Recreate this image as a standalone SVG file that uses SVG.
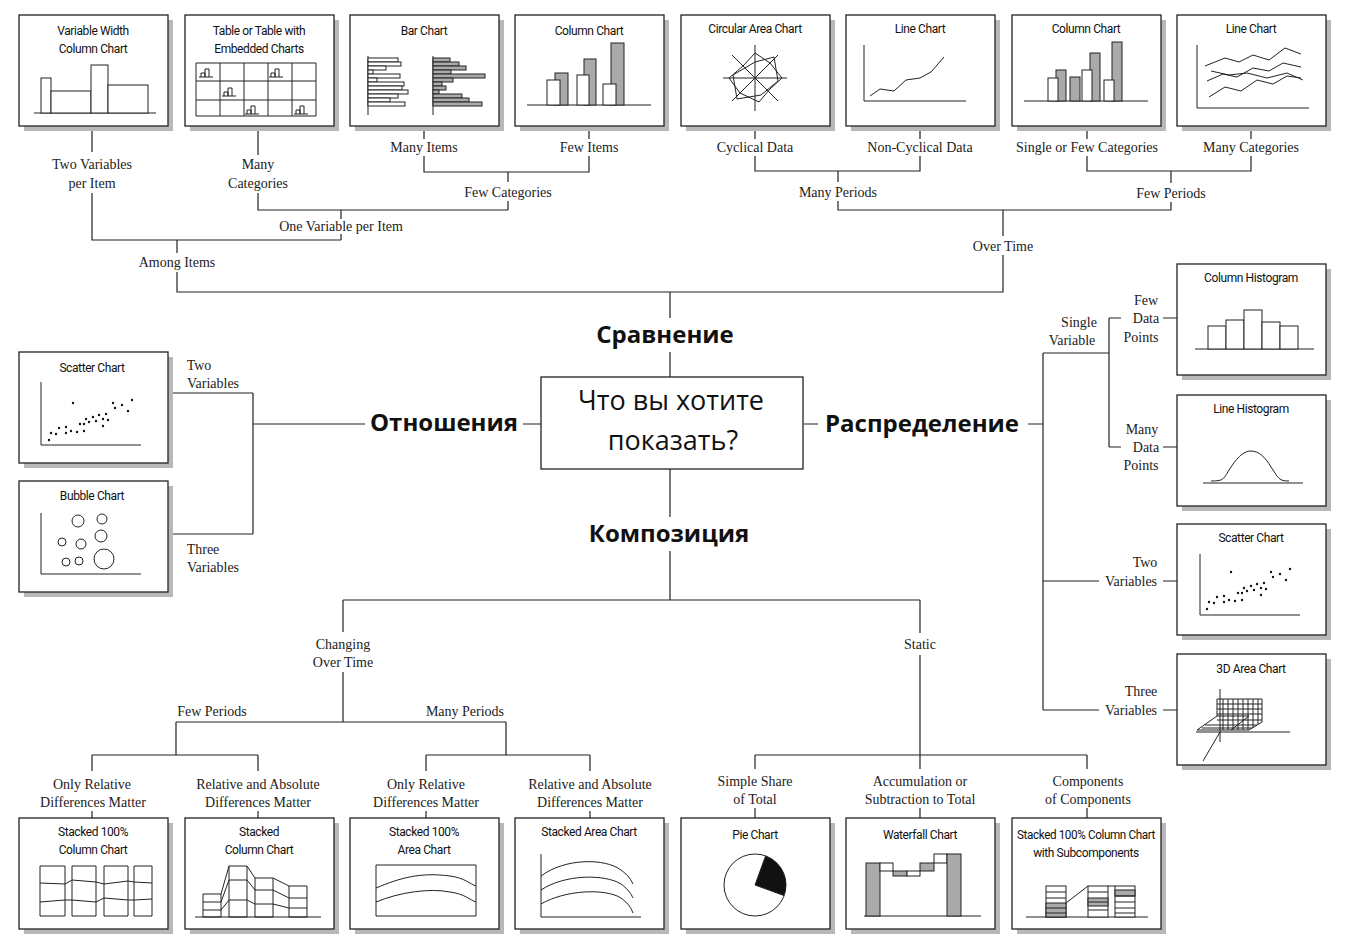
<svg xmlns="http://www.w3.org/2000/svg" width="1346" height="944" viewBox="0 0 1346 944">
<style>
.sh{fill:#b8b8b8}
.bx{fill:#fff;stroke:#222;stroke-width:1.3}
.t{font-family:"Roboto","DejaVu Sans",sans-serif;font-size:12px;letter-spacing:-0.4px;text-anchor:middle;fill:#111}
.l{font-family:"Liberation Serif",serif;font-size:14px;text-anchor:middle;fill:#222}
.big{font-family:"Open Sans","DejaVu Sans",sans-serif;font-weight:bold;font-size:24px;text-anchor:middle;fill:#111}
.q{font-family:"Open Sans","DejaVu Sans",sans-serif;font-size:27px;text-anchor:middle;fill:#111}
.c{fill:none;stroke:#222;stroke-width:1.2}
.k{fill:none;stroke:#222;stroke-width:1}
.w{fill:#fff;stroke:#222;stroke-width:1}
.g{fill:#aaa;stroke:#222;stroke-width:1}
.d{fill:#111}
</style>
<defs>
<g id="frame"><rect class="sh" x="5" y="5" width="149" height="111"/><rect class="bx" x="0" y="0" width="149" height="111"/></g>
<g id="scat">
<circle class="d" cx="0" cy="40" r="1.2"/><circle class="d" cx="2" cy="33" r="1.2"/><circle class="d" cx="7" cy="34" r="1.2"/><circle class="d" cx="10" cy="28" r="1.2"/><circle class="d" cx="17" cy="27" r="1.2"/><circle class="d" cx="17" cy="33" r="1.2"/><circle class="d" cx="22" cy="31" r="1.2"/><circle class="d" cx="28" cy="32" r="1.2"/><circle class="d" cx="31" cy="24" r="1.2"/><circle class="d" cx="35" cy="24" r="1.2"/><circle class="d" cx="37" cy="19" r="1.2"/><circle class="d" cx="40" cy="22" r="1.2"/><circle class="d" cx="44" cy="17" r="1.2"/><circle class="d" cx="47" cy="21" r="1.2"/><circle class="d" cx="50" cy="15" r="1.2"/><circle class="d" cx="54" cy="19" r="1.2"/><circle class="d" cx="54" cy="26" r="1.2"/><circle class="d" cx="57" cy="14" r="1.2"/><circle class="d" cx="59" cy="20" r="1.2"/><circle class="d" cx="66" cy="8" r="1.2"/><circle class="d" cx="64" cy="3" r="1.2"/><circle class="d" cx="73" cy="5" r="1.2"/><circle class="d" cx="83" cy="0" r="1.2"/><circle class="d" cx="79" cy="11" r="1.2"/><circle class="d" cx="24" cy="3" r="1.2"/><circle class="d" cx="35" cy="31" r="1.2"/>
</g>
</defs>

<g id="connectors" class="c">
<path d="M92 126V152M92 193V240H341M341 210V219M341 234V240"/>
<path d="M258 126V155M258 193V210H508M508 172V182M508 201V210"/>
<path d="M424 126V139M424 156V172H589V156M589 126V139"/>
<path d="M177 240V253M177 272V292H1003V255M1003 236V210"/>
<path d="M755 126V139M755 156V171H920V156M920 126V139"/>
<path d="M838 171V182M838 201V210H1171V202M1171 183V171"/>
<path d="M1087 126V139M1087 156V171H1251V156M1251 126V139"/>
<path d="M670 292V318M670 352V377"/>
<path d="M804 424H818M1028 424H1043M1043 353V710"/>
<path d="M1043 353H1109M1109 318V447M1109 318H1121M1163 318H1177M1109 447H1121M1163 447H1177"/>
<path d="M1043 581H1099M1163 581H1177M1043 710H1099M1163 710H1177"/>
<path d="M541 424H523M365 424H253M253 393V534M166 393H253M166 534H253"/>
<path d="M670 469V517M670 551V600M343 600H920M343 600V632M343 672V722M920 600V633M920 655V755"/>
<path d="M176 722H506M176 722V755M506 722V755M92 755H258M426 755H590"/>
<path d="M92 755V771M92 811V818M258 755V771M258 811V818M426 755V771M426 811V818M590 755V771M590 811V818"/>
<path d="M755 755H1087M755 755V769M755 808V818M920 769V755M920 808V818M1087 755V769M1087 808V818"/>
</g>

<g id="labels">
<text class="l" x="92" y="169">Two Variables</text><text class="l" x="92" y="188">per Item</text>
<text class="l" x="258" y="169">Many</text><text class="l" x="258" y="188">Categories</text>
<text class="l" x="424" y="152">Many Items</text><text class="l" x="589" y="152">Few Items</text>
<text class="l" x="508" y="197">Few Categories</text>
<text class="l" x="341" y="231">One Variable per Item</text>
<text class="l" x="177" y="267">Among Items</text>
<text class="l" x="755" y="152">Cyclical Data</text><text class="l" x="920" y="152">Non-Cyclical Data</text>
<text class="l" x="1087" y="152">Single or Few Categories</text><text class="l" x="1251" y="152">Many Categories</text>
<text class="l" x="838" y="197">Many Periods</text><text class="l" x="1171" y="198">Few Periods</text>
<text class="l" x="1003" y="251">Over Time</text>
<text class="l" x="1079" y="327">Single</text><text class="l" x="1072" y="345">Variable</text>
<text class="l" x="1146" y="305">Few</text><text class="l" x="1146" y="323">Data</text><text class="l" x="1141" y="342">Points</text>
<text class="l" x="1142" y="434">Many</text><text class="l" x="1146" y="452">Data</text><text class="l" x="1141" y="470">Points</text>
<text class="l" x="1145" y="567">Two</text><text class="l" x="1131" y="586">Variables</text>
<text class="l" x="1141" y="696">Three</text><text class="l" x="1131" y="715">Variables</text>
<text class="l" x="199" y="370">Two</text><text class="l" x="213" y="388">Variables</text>
<text class="l" x="203" y="554">Three</text><text class="l" x="213" y="572">Variables</text>
<text class="l" x="343" y="649">Changing</text><text class="l" x="343" y="667">Over Time</text>
<text class="l" x="920" y="649">Static</text>
<text class="l" x="212" y="716">Few Periods</text><text class="l" x="465" y="716">Many Periods</text>
<text class="l" x="92" y="789">Only Relative</text><text class="l" x="93" y="807">Differences Matter</text>
<text class="l" x="258" y="789">Relative and Absolute</text><text class="l" x="258" y="807">Differences Matter</text>
<text class="l" x="426" y="789">Only Relative</text><text class="l" x="426" y="807">Differences Matter</text>
<text class="l" x="590" y="789">Relative and Absolute</text><text class="l" x="590" y="807">Differences Matter</text>
<text class="l" x="755" y="786">Simple Share</text><text class="l" x="755" y="804">of Total</text>
<text class="l" x="920" y="786">Accumulation or</text><text class="l" x="920" y="804">Subtraction to Total</text>
<text class="l" x="1088" y="786">Components</text><text class="l" x="1088" y="804">of Components</text>
<text class="big" x="665" y="343">Сравнение</text>
<text class="big" x="444" y="431">Отношения</text>
<text class="big" x="922" y="432">Распределение</text>
<text class="big" x="669" y="542">Композиция</text>
</g>

<g id="center"><rect class="bx" x="541" y="377" width="262" height="92"/>
<text class="q" x="671" y="410">Что вы хотите</text><text class="q" x="673" y="450">показать?</text></g>

<g id="n1" transform="translate(19,15)"><use href="#frame"/><text class="t" x="74" y="20">Variable Width</text><text class="t" x="74" y="38">Column Chart</text>
<path class="k" d="M15 98H137"/><rect class="w" x="22" y="63" width="10" height="35"/><rect class="w" x="32" y="76" width="40" height="22"/><rect class="w" x="72" y="50" width="17" height="48"/><rect class="w" x="89" y="70" width="40" height="28"/></g>

<g id="n2" transform="translate(185,15)"><use href="#frame"/><text class="t" x="74" y="20">Table or Table with</text><text class="t" x="74" y="38">Embedded Charts</text>
<path class="k" d="M11 48H131V101H11ZM11 66H131M11 85H131M35 48V101M59 48V101M83 48V101M107 48V101"/>
<path class="k" d="M14 62H28M16 62V58H20V62M20 62V54H24V62M84 62H98M86 62V58H90V62M90 62V54H94V62M37 81H51M39 81V77H43V81M43 81V73H47V81M60 99H74M62 99V95H66V99M66 99V91H70V99M109 99H123M111 99V95H115V99M115 99V91H119V99"/></g>

<g id="n3" transform="translate(350,15)"><use href="#frame"/><text class="t" x="74" y="20">Bar Chart</text>
<path class="k" d="M18 41V100M83 41V100"/>
<g class="w"><rect x="18" y="43" width="30" height="4"/><rect x="18" y="47" width="33" height="4"/><rect x="18" y="51" width="18" height="4"/><rect x="18" y="55" width="5" height="4"/><rect x="18" y="59" width="32" height="4"/><rect x="18" y="63" width="9" height="4"/><rect x="18" y="67" width="36" height="4"/><rect x="18" y="71" width="34" height="4"/><rect x="18" y="75" width="40" height="4"/><rect x="18" y="79" width="30" height="4"/><rect x="18" y="83" width="22" height="4"/><rect x="18" y="87" width="37" height="4"/></g>
<g class="g"><rect x="83" y="43" width="17" height="4"/><rect x="83" y="47" width="26" height="4"/><rect x="83" y="51" width="33" height="4"/><rect x="83" y="55" width="18" height="4"/><rect x="83" y="59" width="52" height="4"/><rect x="83" y="63" width="20" height="4"/><rect x="83" y="67" width="9" height="4"/><rect x="83" y="71" width="13" height="4"/><rect x="83" y="75" width="6" height="4"/><rect x="83" y="79" width="29" height="4"/><rect x="83" y="83" width="36" height="4"/><rect x="83" y="87" width="49" height="4"/></g></g>

<g id="n4" transform="translate(515,15)"><use href="#frame"/><text class="t" x="74" y="20">Column Chart</text>
<path class="k" d="M12 90H136"/><rect class="g" x="40" y="58" width="13" height="32"/><rect class="w" x="32" y="65" width="13" height="25"/><rect class="g" x="69" y="44" width="12" height="46"/><rect class="w" x="62" y="60" width="12" height="30"/><rect class="g" x="96" y="28" width="13" height="62"/><rect class="w" x="88" y="69" width="13" height="21"/></g>

<g id="n5" transform="translate(681,15)"><use href="#frame"/><text class="t" x="74" y="18">Circular Area Chart</text>
<path class="k" d="M74 30V96M42 63H106M51 40L97 86M97 40L51 86"/>
<path class="k" d="M74 38L89 48L101 63L89 74L78 87L59 78L48 63L62 51Z"/><path class="k" d="M74 47L93 42L97 66L80 80L56 84L52 60Z"/></g>

<g id="n6" transform="translate(846,15)"><use href="#frame"/><text class="t" x="74" y="18">Line Chart</text>
<path class="k" d="M18 30V86H120"/><path class="k" d="M24 81L34 74L48 76L60 65L74 63L85 57L98 42"/></g>

<g id="n7" transform="translate(1012,15)"><use href="#frame"/><text class="t" x="74" y="18">Column Chart</text>
<path class="k" d="M12 86H136"/><rect class="g" x="44" y="55" width="10" height="31"/><rect class="w" x="36" y="63" width="10" height="23"/><rect class="g" x="58" y="62" width="10" height="24"/><rect class="g" x="78" y="38" width="10" height="48"/><rect class="w" x="70" y="55" width="10" height="31"/><rect class="g" x="100" y="27" width="10" height="59"/><rect class="w" x="92" y="65" width="10" height="21"/></g>

<g id="n8" transform="translate(1177,15)"><use href="#frame"/><text class="t" x="74" y="18">Line Chart</text>
<path class="k" d="M20 30V93H132"/><path class="k" d="M28 51L48 43L62 47L76 40L92 45L108 33L124 39M30 66L46 59L60 62L76 53L92 56L106 48L124 52M32 82L48 72L64 76L80 65L96 69L110 61L124 63M34 56L52 60L70 58L90 63L110 58L126 65"/></g>

<g id="n9" transform="translate(1177,264)"><use href="#frame"/><text class="t" x="74" y="18">Column Histogram</text>
<path class="k" d="M18 85H137"/><rect class="w" x="31" y="62" width="18" height="23"/><rect class="w" x="49" y="56" width="18" height="29"/><rect class="w" x="67" y="46" width="18" height="39"/><rect class="w" x="85" y="58" width="18" height="27"/><rect class="w" x="103" y="62" width="18" height="23"/></g>

<g id="n10" transform="translate(1177,395)"><use href="#frame"/><text class="t" x="74" y="18">Line Histogram</text>
<path class="k" d="M26 88H126"/><path class="k" d="M34 86C48 86 46 84 54 72C62 60 68 56 74 56C82 56 88 62 94 72C102 84 102 86 112 86"/></g>

<g id="n11" transform="translate(1177,524)"><use href="#frame"/><text class="t" x="74" y="18">Scatter Chart</text>
<path class="k" d="M23 30V91H123"/><use href="#scat" transform="translate(30,45)"/></g>

<g id="n12" transform="translate(1177,654)"><use href="#frame"/><text class="t" x="74" y="19">3D Area Chart</text>
<path class="k" d="M43 35V88M19 78H113M43 78L26 107"/>
<path class="k" d="M20 76L40 62H72L54 76ZM40 62V45H85V68L72 76H54"/>
<path class="k" d="M46 45V76M51 45V76M56 45V76M61 45V76M66 45V76M71 45V76M76 45V74M81 45V70M40 50H85M40 55H85M40 60H85M40 66H85M28 71H80M25 74H75"/></g>

<g id="n13" transform="translate(19,352)"><use href="#frame"/><text class="t" x="73" y="20">Scatter Chart</text>
<path class="k" d="M22 30V93H122"/><use href="#scat" transform="translate(30,48)"/></g>

<g id="n14" transform="translate(19,481)"><use href="#frame"/><text class="t" x="73" y="19">Bubble Chart</text>
<path class="k" d="M22 32V93H122"/><g class="k"><circle cx="59" cy="40" r="6"/><circle cx="83" cy="38" r="5"/><circle cx="82" cy="55" r="6"/><circle cx="43" cy="61" r="4"/><circle cx="62" cy="63" r="5"/><circle cx="85" cy="78" r="10"/><circle cx="60" cy="80" r="4"/><circle cx="47" cy="81" r="4"/></g></g>

<g id="n15" transform="translate(19,818)"><use href="#frame"/><text class="t" x="74" y="18">Stacked 100%</text><text class="t" x="74" y="36">Column Chart</text>
<path class="k" d="M21 48H46V98H21ZM53 48H77V98H53ZM85 48H109V98H85ZM115 48H133V98H115ZM21 65L46 66M53 62L77 64M85 66L109 63M115 64L133 65M21 84L46 82M53 82L77 84M85 80L109 82M115 82L133 81M46 66L53 62M77 64L85 66M109 63L115 64M46 82L53 82M77 84L85 80M109 82L115 82"/></g>

<g id="n16" transform="translate(185,818)"><use href="#frame"/><text class="t" x="74" y="18">Stacked</text><text class="t" x="74" y="36">Column Chart</text>
<path class="k" d="M18 76H36V99H18ZM18 84H36M18 92H36M44 48H62V99H44ZM44 62H62M44 82H62M70 60H88V99H70ZM70 72H88M70 86H88M104 68H122V99H104ZM104 80H122M104 90H122M36 76L44 48M36 84L44 62M36 92L44 82M62 48L70 60M62 62L70 72M62 82L70 86M88 72L104 80M88 86L104 90M88 60L104 68M10 99H136"/></g>

<g id="n17" transform="translate(350,818)"><use href="#frame"/><text class="t" x="74" y="18">Stacked 100%</text><text class="t" x="74" y="36">Area Chart</text>
<path class="k" d="M26 47H126V98H26ZM26 70C50 60 70 54 100 58C115 60 120 66 126 68M26 84C50 74 80 70 100 74C115 76 120 82 126 84"/></g>

<g id="n18" transform="translate(515,818)"><use href="#frame"/><text class="t" x="74" y="18">Stacked Area Chart</text>
<path class="k" d="M26 36V99H126M26 58C50 40 90 40 106 52C114 58 116 62 118 66M26 72C50 56 90 56 106 66C114 72 116 76 118 80M26 86C50 72 90 70 106 80C114 86 116 90 118 95"/></g>

<g id="n19" transform="translate(681,818)"><use href="#frame"/><text class="t" x="74" y="21">Pie Chart</text>
<circle class="k" cx="74" cy="67" r="31"/><path class="d" d="M74 67L84.6 37.9A31 31 0 0 1 103.1 77.6Z"/><path class="k" d="M74 67L84.6 37.9M74 67L103.1 77.6"/></g>

<g id="n20" transform="translate(846,818)"><use href="#frame"/><text class="t" x="74" y="21">Waterfall Chart</text>
<path class="k" d="M18 98H135"/><rect class="g" x="20" y="45" width="14" height="53"/><rect class="w" x="34" y="45" width="13" height="8"/><rect class="g" x="47" y="53" width="14" height="5"/><rect class="w" x="61" y="53" width="13" height="5"/><rect class="g" x="74" y="45" width="14" height="8"/><rect class="w" x="88" y="36" width="13" height="9"/><rect class="g" x="101" y="36" width="14" height="62"/></g>

<g id="n21" transform="translate(1012,818)"><use href="#frame"/><text class="t" x="74" y="21" textLength="138" lengthAdjust="spacingAndGlyphs">Stacked 100% Column Chart</text><text class="t" x="74" y="39">with Subcomponents</text>
<path class="k" d="M14 99H136"/><g class="w"><rect x="34" y="68" width="20" height="31"/><rect x="76" y="68" width="20" height="31"/><rect x="103" y="68" width="20" height="31"/></g><rect class="g" x="34" y="85" width="20" height="14"/><rect class="g" x="76" y="80" width="20" height="8"/><rect class="g" x="103" y="72" width="20" height="6"/>
<path class="k" d="M34 74H54M34 80H54M34 90H54M34 95H54M76 74H96M76 84H96M76 92H96M103 78H123M103 84H123M103 90H123M103 95H123M54 85L76 68M96 68L103 68"/></g>
</svg>
